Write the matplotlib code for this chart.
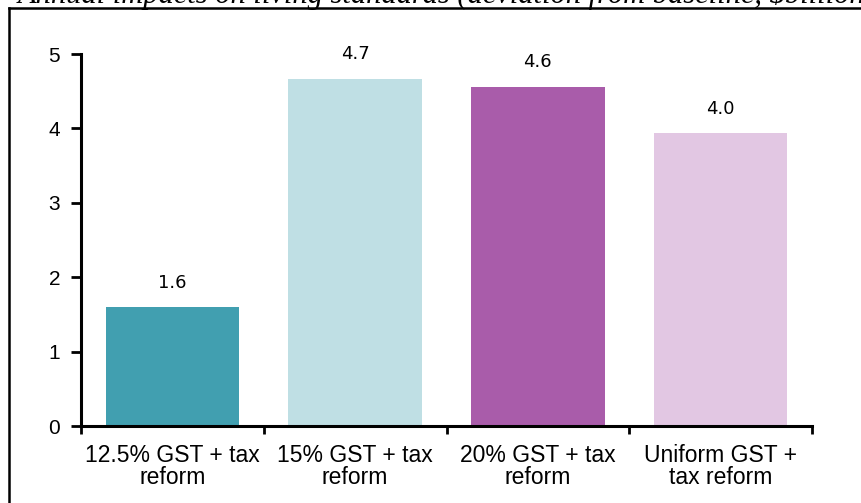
import matplotlib
matplotlib.use('Agg')
import matplotlib.pyplot as plt
from matplotlib.lines import Line2D

categories = ['12.5% GST + tax\nreform', '15% GST + tax\nreform',
              '20% GST + tax\nreform', 'Uniform GST +\ntax reform']
values = [1.6, 4.67, 4.56, 3.94]
value_labels = ['1.6', '4.7', '4.6', '4.0']
colors = ['#419FB0', '#BFDFE4', '#A95CAA', '#E2C7E3']
yticks = [0, 1, 2, 3, 4, 5]
title = 'Annual impacts on living standards (deviation from baseline, $billion)'

fig = plt.figure(figsize=(8.61, 5.03), dpi=100)
ax = fig.add_axes([81/861, 1 - 426/503, (812 - 81)/861, (426 - 54)/503])

x = list(range(len(categories)))
bars = ax.bar(x, values, width=0.73, color=colors, zorder=2)

for xi, v, lab in zip(x, values, value_labels):
    ax.annotate(lab, (xi, v), xytext=(0, 11), textcoords='offset points',
                ha='center', va='bottom', fontsize=13, family='DejaVu Sans')

ax.set_xlim(-0.5, 3.5)
ax.set_ylim(0, 5)
ax.set_yticks(yticks)
ax.set_yticklabels([str(t) for t in yticks], fontsize=15, family='Liberation Sans')

ax.set_xticks(x)
ax.set_xticklabels(categories, fontsize=16.5, family='Liberation Sans', linespacing=0.95)
ax.set_xticks([-0.5, 0.5, 1.5, 2.5, 3.5], minor=True)
ax.tick_params(axis='x', which='major', length=0, pad=13)
ax.tick_params(axis='x', which='minor', length=6, width=2, direction='out')
ax.tick_params(axis='y', length=7, width=2, direction='out', pad=8)

for s in ['top', 'right']:
    ax.spines[s].set_visible(False)
for s in ['left', 'bottom']:
    ax.spines[s].set_linewidth(2.2)

# box around chart (cropped from source page)
fig.add_artist(Line2D([8.5/861, 8.5/861], [0, 1 - 8/503], transform=fig.transFigure,
                      color='black', lw=1.8))
fig.add_artist(Line2D([8.5/861, 1], [1 - 8/503, 1 - 8/503], transform=fig.transFigure,
                      color='black', lw=1.8))

fig.text(18/861, 1 - 3/503, title, ha='left', va='baseline', fontsize=22,
         family='Liberation Serif', style='italic')

fig.savefig('out.png', dpi=100)
